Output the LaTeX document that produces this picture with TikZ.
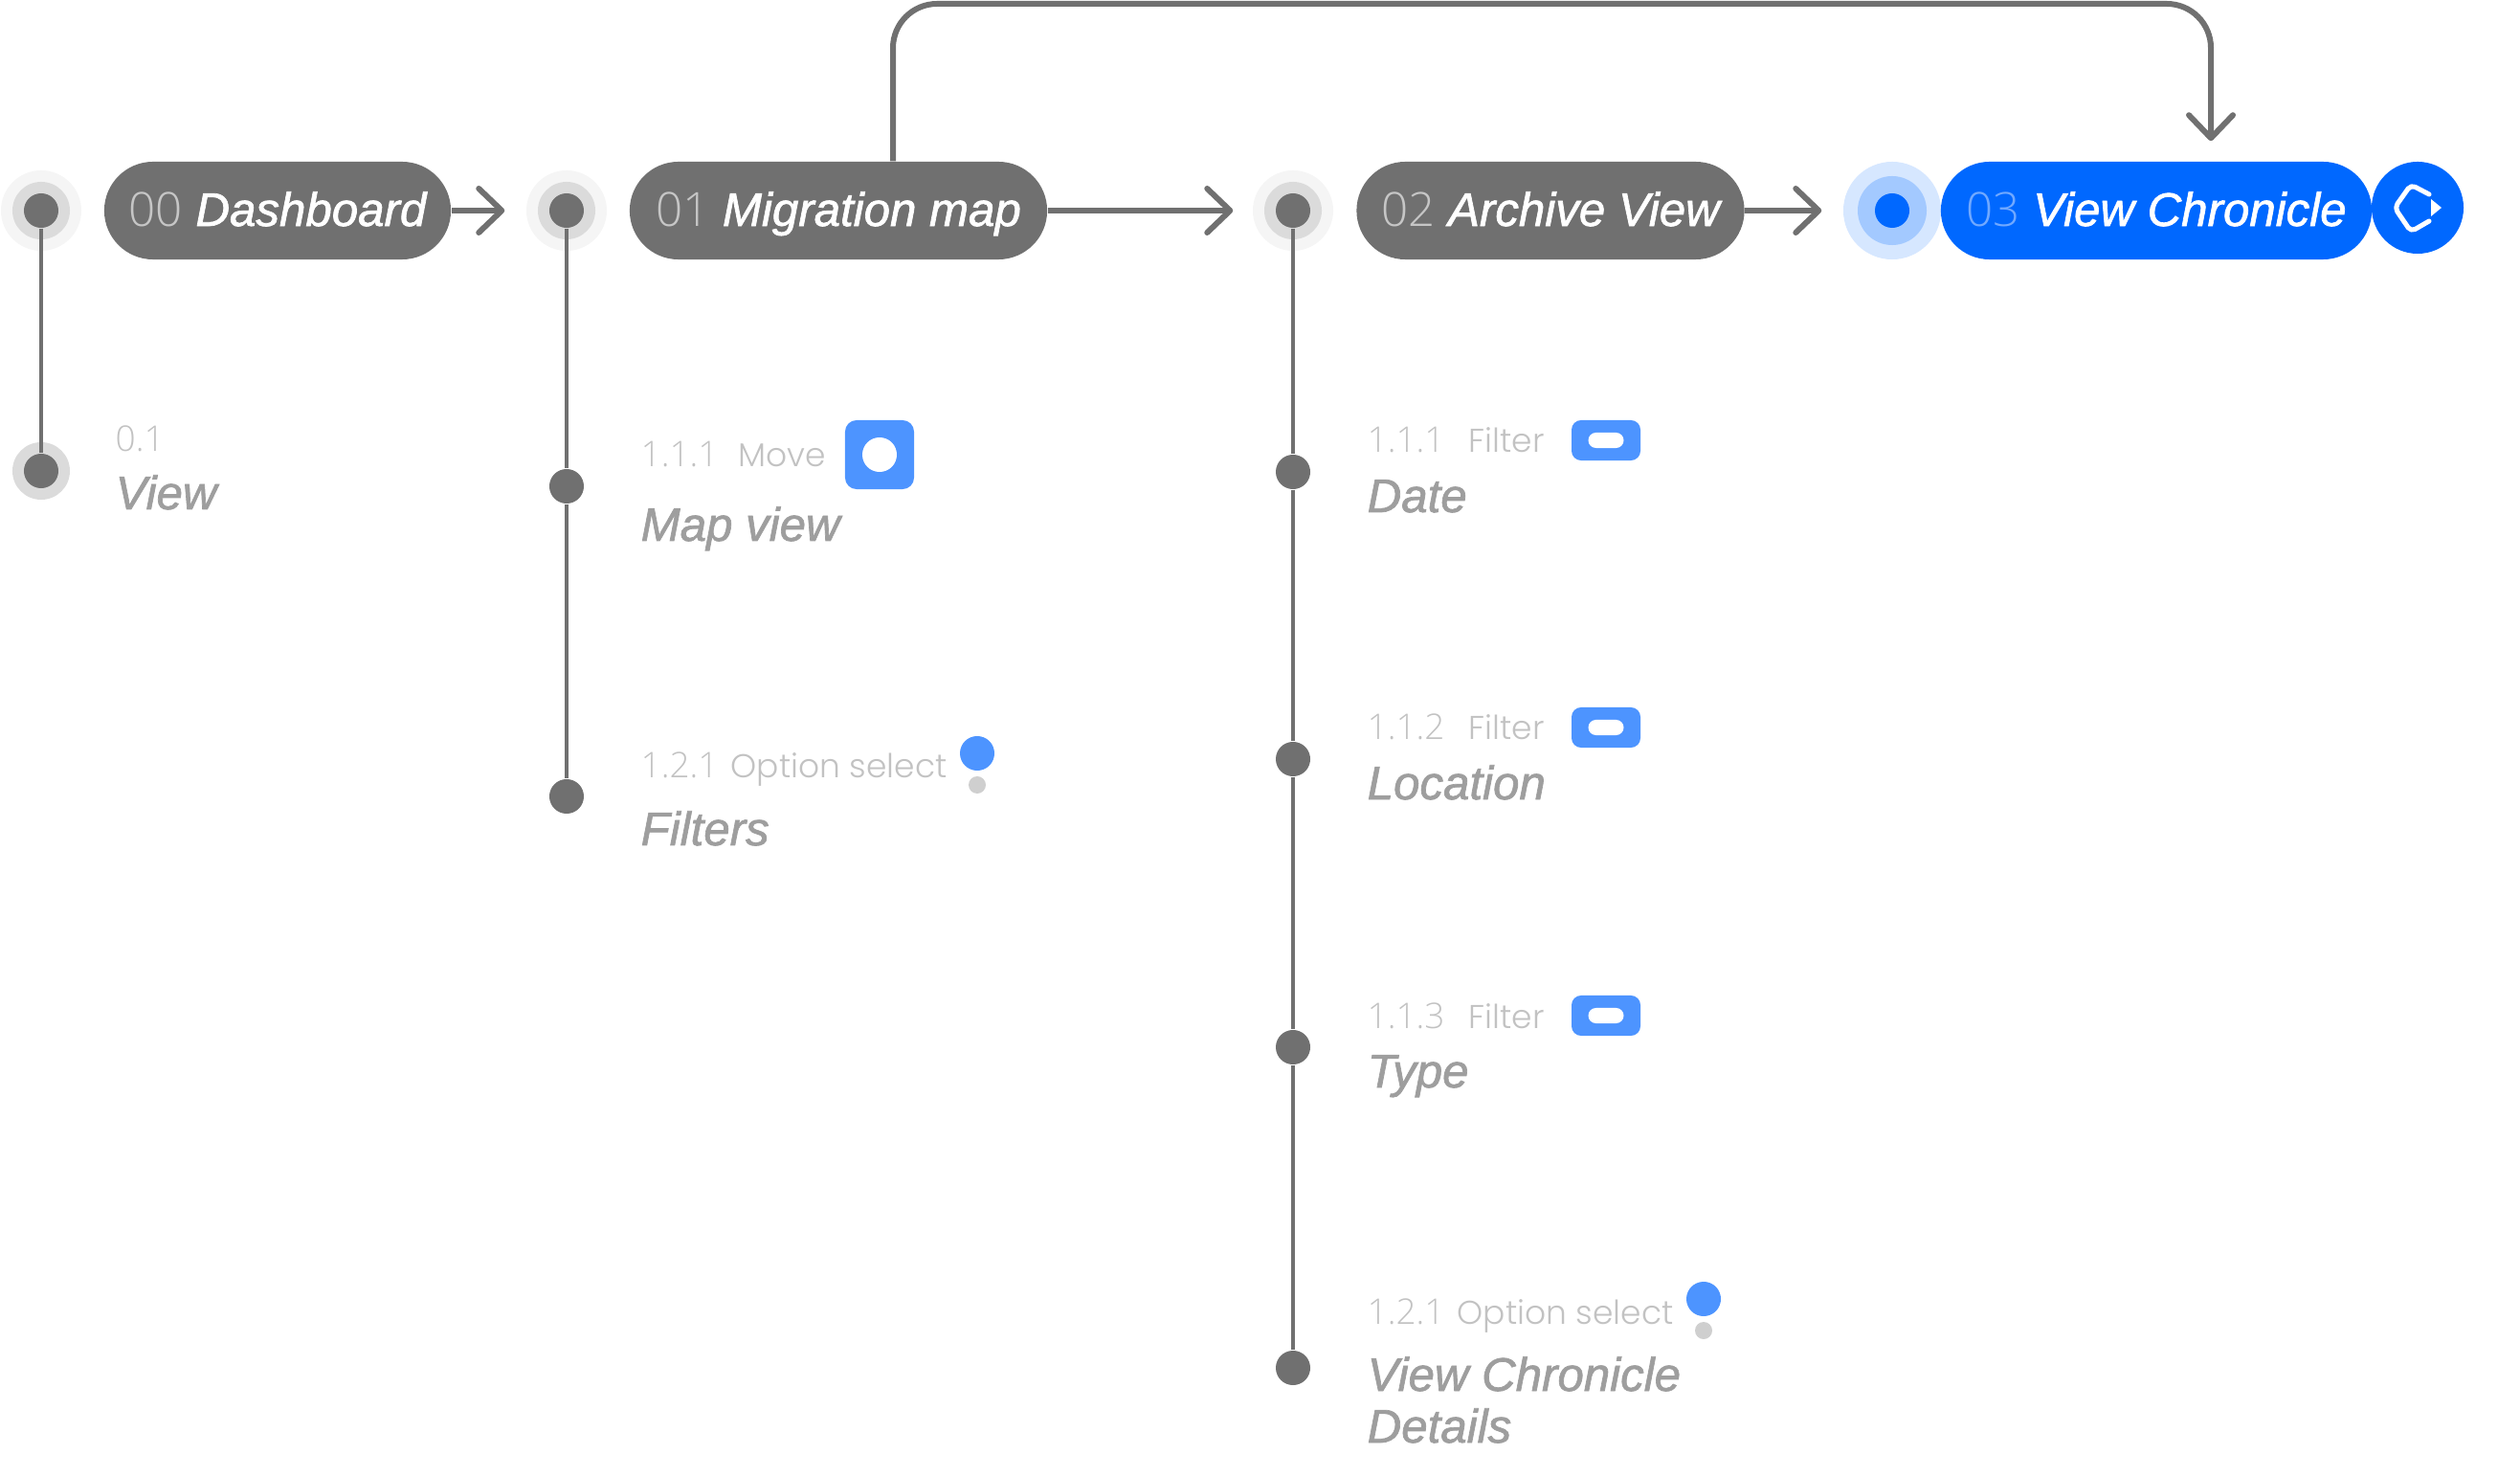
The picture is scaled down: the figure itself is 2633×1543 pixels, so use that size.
\documentclass[tikz,border=0pt]{standalone}
\usepackage{fontspec}
\setmainfont{Liberation Sans}
\newfontfamily\lightfont{Poppins Light}
\newfontfamily\numfont{Open Sans Light}
\newfontfamily\namefont{Liberation Sans Italic}[FakeBold=1.4]
\usetikzlibrary{arrows.meta}
\definecolor{pillgray}{HTML}{707070}
\definecolor{pillblue}{HTML}{0068FF}
\definecolor{softblue}{HTML}{4D94FF}
\definecolor{numgray}{HTML}{CFCFCF}
\definecolor{taggray}{HTML}{C2C2C2}
\definecolor{titlegray}{HTML}{9E9E9E}
\tikzset{
  pill/.style={rectangle,rounded corners=.51cm,minimum height=1.02cm,text height=.42cm,text depth=.1cm,inner sep=0,fill=pillgray,text=white,font=\fontsize{14}{16}\selectfont},
  dot/.style={circle,minimum size=.36cm,inner sep=0,fill=pillgray},
  halomid/.style={circle,minimum size=.6cm,inner sep=0,fill=numgray!75},
  haloout/.style={circle,minimum size=.84cm,inner sep=0,fill=numgray!20},
  flow/.style={draw=pillgray,line width=.06cm,-{Straight Barb[length=.24cm,width=.46cm,round]}},
  stem/.style={draw=pillgray,line width=.035cm},
  tag/.style={anchor=base west,inner sep=0,text=taggray,font=\lightfont\fontsize{9.8}{12}\selectfont},
  numtag/.style={tag,font=\numfont\fontsize{10.5}{12}\selectfont},
  title/.style={anchor=base west,inner sep=0,text=titlegray,font=\namefont\fontsize{14}{16}\selectfont},
  toggle/.style={rectangle,rounded corners=.1cm,minimum width=.72cm,minimum height=.42cm,inner sep=0,fill=softblue},
  knob/.style={rectangle,rounded corners=.08cm,minimum width=.37cm,minimum height=.16cm,inner sep=0,fill=white}
}
\newcommand{\stagenum}[2]{{\numfont\color{#1}#2}}
\begin{document}
\begin{tikzpicture}[x=.01cm,y=-.01cm]
\useasboundingbox (0,0) rectangle (2633,1543);
\node[haloout] (o0) at (43,220) {};
\node[halomid] (m0) at (43,220) {};
\node[dot] (d0) at (43,220) {};
\node[haloout] (o1) at (592,220) {};
\node[halomid] (m1) at (592,220) {};
\node[dot] (d1) at (592,220) {};
\node[haloout] (o2) at (1351,220) {};
\node[halomid] (m2) at (1351,220) {};
\node[dot] (d2) at (1351,220) {};
\node[haloout,minimum size=1.02cm,fill=pillblue!16] (o3) at (1977,220) {};
\node[halomid,minimum size=.72cm,fill=pillblue!36] (m3) at (1977,220) {};
\node[dot,fill=pillblue] (d3) at (1977,220) {};
\node[pill,minimum width=3.62cm] (p0) at (290,220) {\stagenum{white!60!pillgray}{00} {\namefont Dashboard}};
\node[pill,minimum width=4.36cm] (p1) at (876,220) {\stagenum{white!60!pillgray}{01} {\namefont Migration map}};
\node[pill,minimum width=4.05cm] (p2) at (1620,220) {\stagenum{white!60!pillgray}{02} {\namefont Archive View}};
\node[pill,minimum width=4.5cm,fill=pillblue] (p3) at (2253,220) {\stagenum{softblue!80!white}{03} {\namefont View Chronicle}};
\node[circle,minimum size=.96cm,inner sep=0,fill=pillblue] (share) at (2526,217) {};
\draw[white,line width=.05cm,line cap=round,line join=round,rounded corners=.05cm] (2538,203) -- (2519,193) -- (2502,217) -- (2519,242) -- (2538,231);
\fill[white] (2540,208) -- (2551,217) -- (2540,226) -- cycle;
% arrows between the stages
\draw[flow,shorten >=.22cm] (p0) -- (o1);
\draw[flow,shorten >=.2cm] (p1) -- (o2);
\draw[flow,shorten >=.22cm] (p2) -- (o3);
\draw[flow,rounded corners=.46cm,shorten >=.21cm] ([xshift=.57cm]p1.north) -- (933,4) -- (2310,4) -- ([xshift=.57cm]p3.north);
% stage 0
\node[halomid] (m4) at (43,492) {};
\node[dot] (v0) at (43,492) {};
\draw[stem] (d0) -- (v0);
\node[numtag] (t0) at (120,472) {0.1};
\node[title] (n0) at (120,532) {View};
% stage 1
\node[dot] (v1) at (592,508) {};
\node[dot] (v2) at (592,832) {};
\draw[stem] (d1) -- (v1);
\draw[stem] (v1) -- (v2);
\node[numtag] (t1) at (669,488) {1.1.1};
\node[tag] (l1) at (771,488) {Move};
\node[rectangle,rounded corners=.12cm,minimum size=.72cm,inner sep=0,fill=softblue] (b1) at (919,475) {};
\node[circle,minimum size=.36cm,inner sep=0,fill=white] (c1) at (919,475) {};
\node[title] (n1) at (669,565) {Map view};
\node[numtag] (t2) at (669,813) {1.2.1};
\node[tag] (l2) at (763,813) {Option select};
\node[dot,fill=softblue] (r2) at (1021,787) {};
\node[dot,minimum size=.18cm,fill=numgray] (s2) at (1021,820) {};
\node[title] (n2) at (669,883) {Filters};
% stage 2
\node[dot] (v3) at (1351,493) {};
\node[dot] (v4) at (1351,793) {};
\node[dot] (v5) at (1351,1094) {};
\node[dot] (v6) at (1351,1429) {};
\draw[stem] (d2) -- (v3);
\draw[stem] (v3) -- (v4);
\draw[stem] (v4) -- (v5);
\draw[stem] (v5) -- (v6);
\node[numtag] (t3) at (1428,473) {1.1.1};
\node[tag] (l3) at (1534,473) {Filter};
\node[toggle] (g3) at (1678,460) {};
\node[knob] (k3) at (1678,460) {};
\node[title] (n3) at (1428,535) {Date};
\node[numtag] (t4) at (1428,773) {1.1.2};
\node[tag] (l4) at (1534,773) {Filter};
\node[toggle] (g4) at (1678,760) {};
\node[knob] (k4) at (1678,760) {};
\node[title] (n4) at (1428,835) {Location};
\node[numtag] (t5) at (1428,1074) {1.1.3};
\node[tag] (l5) at (1534,1074) {Filter};
\node[toggle] (g5) at (1678,1061) {};
\node[knob] (k5) at (1678,1061) {};
\node[title] (n5) at (1428,1136) {Type};
\node[numtag] (t6) at (1428,1383) {1.2.1};
\node[tag] (l6) at (1522,1383) {Option select};
\node[dot,fill=softblue] (r6) at (1780,1357) {};
\node[dot,minimum size=.18cm,fill=numgray] (s6) at (1780,1390) {};
\node[title] (n6) at (1428,1453) {View Chronicle};
\node[title] (n7) at (1428,1507) {Details};
\end{tikzpicture}
\end{document}
